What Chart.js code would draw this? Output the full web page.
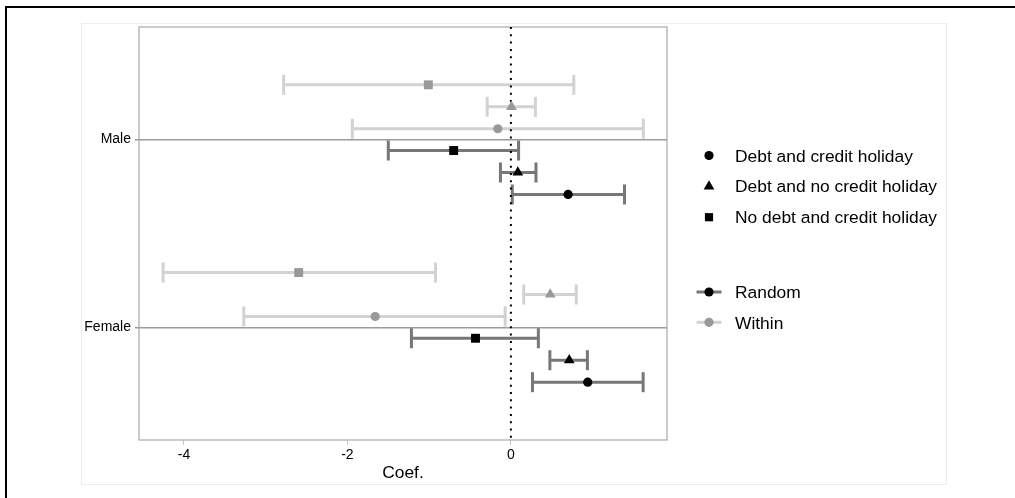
<!DOCTYPE html>
<html>
<head>
<meta charset="utf-8">
<title>Coefficient plot</title>
<script src="https://cdn.jsdelivr.net/npm/chart.js@4.4.1/dist/chart.umd.min.js"></script>
<style>
  html, body { margin: 0; padding: 0; background: #fff; }
  #wrap { position: relative; width: 1015px; height: 498px; overflow: hidden; }
  #frame { position: absolute; left: 5px; top: 6px; width: 1100px; height: 600px;
           border-top: 2px solid #000; border-left: 2px solid #000; }
  #panel { position: absolute; left: 81px; top: 23px; width: 864px; height: 460px;
           border: 1px solid #ececec; }
  #chart { position: absolute; left: 0; top: 0; }
</style>
</head>
<body>
<div id="wrap">
  <div id="frame"></div>
  <div id="panel"></div>
  <canvas id="chart" width="1015" height="498"></canvas>
</div>
<script>
// Datos (orden: circle, triangle, square)
const groups = ['Male', 'Female'];
const outcomes = ['Debt and credit holiday', 'Debt and no credit holiday', 'No debt and credit holiday'];
const models = ['Random', 'Within'];
const xTicks = [-4, -2, 0];

const maleRandomCoef = [0.70, 0.085, -0.70];
const maleRandomLo = [0.017, -0.128, -1.50];
const maleRandomHi = [1.39, 0.307, 0.094];
const maleWithinCoef = [-0.16, 0.007, -1.01];
const maleWithinLo = [-1.94, -0.29, -2.78];
const maleWithinHi = [1.62, 0.30, 0.77];

const femaleRandomCoef = [0.94, 0.714, -0.433];
const femaleRandomLo = [0.264, 0.477, -1.217];
const femaleRandomHi = [1.618, 0.936, 0.336];
const femaleWithinCoef = [-1.66, 0.481, -2.596];
const femaleWithinLo = [-3.268, 0.157, -4.255];
const femaleWithinHi = [-0.07, 0.80, -0.922];

// Estilos
const FONT = "'Liberation Sans', Arial, Helvetica, sans-serif";
const STYLE = {
  Random: { line: '#777777', marker: '#000000' },
  Within: { line: '#d2d2d2', marker: '#999999' }
};
const SHAPES = [
  { pointStyle: 'circle', radius: 4.6 },
  { pointStyle: 'triangle', radius: 6.2 },
  { pointStyle: 'rect', radius: 6.3 }
];
// desplazamiento vertical de cada fila dentro del grupo
const ROW_OFFSET = {
  Random: [0.292, 0.175, 0.058],
  Within: [-0.058, -0.175, -0.292]
};

const series = {
  Male: {
    Random: { coef: maleRandomCoef, lo: maleRandomLo, hi: maleRandomHi },
    Within: { coef: maleWithinCoef, lo: maleWithinLo, hi: maleWithinHi }
  },
  Female: {
    Random: { coef: femaleRandomCoef, lo: femaleRandomLo, hi: femaleRandomHi },
    Within: { coef: femaleWithinCoef, lo: femaleWithinLo, hi: femaleWithinHi }
  }
};

function buildDatasets() {
  const datasets = [];
  const markers = {};

  groups.forEach((g, gi) => {
    models.forEach(m => {
      const s = series[g][m];
      outcomes.forEach((o, k) => {
        const y = gi + 1 + ROW_OFFSET[m][k];
        // intervalo de confianza con remates verticales
        datasets.push({
          label: `${g} ${m} ${o} CI`,
          showLine: true,
          data: [{ x: s.lo[k], y }, { x: s.hi[k], y }],
          borderColor: STYLE[m].line,
          borderWidth: 3,
          pointStyle: 'line',
          pointRotation: 90,
          pointRadius: 10,
          pointBorderWidth: 3,
          pointBorderColor: STYLE[m].line,
          order: 2
        });
        const key = `${m}-${k}`;
        if (!markers[key]) markers[key] = { m, k, data: [] };
        markers[key].data.push({ x: s.coef[k], y });
      });
    });
  });

  Object.values(markers).forEach(({ m, k, data }) => {
    datasets.push({
      label: `${m} ${outcomes[k]}`,
      data,
      pointStyle: SHAPES[k].pointStyle,
      pointRadius: SHAPES[k].radius,
      pointBorderWidth: 0,
      backgroundColor: STYLE[m].marker,
      order: 0
    });
  });

  // línea de referencia en cero
  datasets.push({
    label: 'zero',
    showLine: true,
    data: [{ x: 0, y: 0.4 }, { x: 0, y: 2.6 }],
    borderColor: '#000',
    borderWidth: 2,
    borderDash: [2, 5.3],
    pointRadius: 0,
    order: 1
  });

  return datasets;
}

const plotBox = {
  id: 'plotBox',
  beforeDatasetsDraw(chart) {
    const { ctx, chartArea: a } = chart;
    ctx.save();
    ctx.strokeStyle = '#a8a8a8';
    ctx.lineWidth = 1.2;
    ctx.strokeRect(a.left, a.top, a.right - a.left, a.bottom - a.top);
    ctx.restore();
  }
};

const customLegend = {
  id: 'customLegend',
  afterDraw(chart) {
    const { ctx, chartArea: a } = chart;
    const sx = a.right + 42;
    const tx = a.right + 68;
    ctx.save();
    ctx.font = `17.4px ${FONT}`;
    ctx.textBaseline = 'alphabetic';
    ctx.textAlign = 'left';

    const shapeRows = [
      { y: 155.5, base: 161.7 },
      { y: 186.5, base: 191.7 },
      { y: 217.2, base: 223.3 }
    ];
    outcomes.forEach((o, k) => {
      ctx.fillStyle = '#000';
      Chart.helpers.drawPoint(ctx, {
        pointStyle: SHAPES[k].pointStyle,
        radius: k === 2 ? 5.8 : SHAPES[k].radius,
        rotation: 0,
        borderWidth: 0
      }, sx, shapeRows[k].y);
      ctx.fillStyle = '#000';
      ctx.fillText(o, tx, shapeRows[k].base);
    });

    const modelRows = [{ y: 292, base: 298.3 }, { y: 322.3, base: 329 }];
    models.forEach((m, i) => {
      const r = modelRows[i];
      ctx.strokeStyle = STYLE[m].line;
      ctx.lineWidth = 3;
      ctx.beginPath();
      ctx.moveTo(sx - 12.5, r.y);
      ctx.lineTo(sx + 12.5, r.y);
      ctx.stroke();
      ctx.fillStyle = STYLE[m].marker;
      Chart.helpers.drawPoint(ctx, { pointStyle: 'circle', radius: 4.6, rotation: 0, borderWidth: 0 }, sx, r.y);
      ctx.fillStyle = '#000';
      ctx.fillText(m, tx, r.base);
    });
    ctx.restore();
  }
};

new Chart(document.getElementById('chart'), {
  type: 'scatter',
  data: { datasets: buildDatasets() },
  plugins: [plotBox, customLegend],
  options: {
    responsive: false,
    animation: false,
    events: [],
    layout: { padding: { left: 0, top: 27, right: 348, bottom: 0 } },
    plugins: {
      legend: { display: false },
      tooltip: { enabled: false }
    },
    scales: {
      x: {
        type: 'linear',
        min: -4.55,
        max: 1.91,
        afterBuildTicks: (axis) => { axis.ticks = xTicks.map(v => ({ value: v })); },
        afterFit: (axis) => { axis.height = 58; },
        border: { display: false },
        grid: { drawOnChartArea: false, color: '#c4c4c4', lineWidth: 1, tickLength: 5 },
        ticks: { color: '#000', font: { family: FONT, size: 14 }, padding: 2, maxRotation: 0 },
        title: {
          display: true,
          text: 'Coef.',
          color: '#000',
          font: { family: FONT, size: 17.4 },
          padding: { top: 0, bottom: 14 }
        }
      },
      y: {
        type: 'linear',
        min: 0.4,
        max: 2.6,
        reverse: true,
        afterBuildTicks: (axis) => { axis.ticks = groups.map((g, i) => ({ value: i + 1 })); },
        afterFit: (axis) => { axis.width = 139; },
        border: { display: false },
        grid: { color: '#9c9c9c', lineWidth: 1.5, tickLength: 4 },
        ticks: {
          color: '#000',
          font: { family: FONT, size: 14 },
          padding: 4,
          autoSkip: false,
          callback: (v) => groups[v - 1]
        }
      }
    }
  }
});
</script>
</body>
</html>
